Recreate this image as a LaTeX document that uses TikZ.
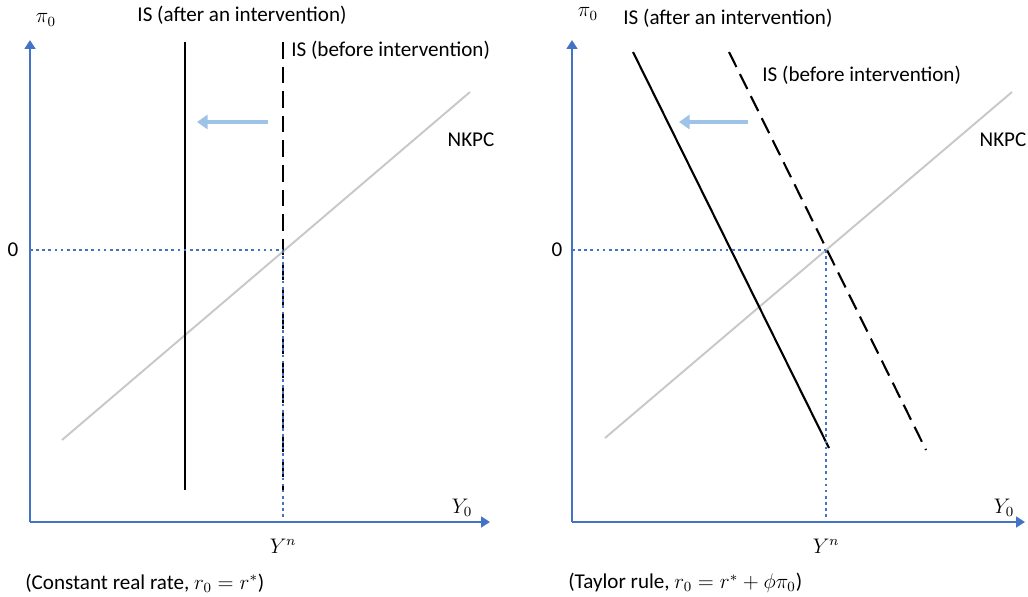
\documentclass[tikz,border=0pt]{standalone}
\usepackage{fontspec}
\setmainfont{Carlito}
\usepackage{amsmath}
\usetikzlibrary{arrows.meta}
\definecolor{axisC}{HTML}{4472C4}
\definecolor{shiftC}{HTML}{9DC3E6}
\definecolor{nkpcC}{HTML}{C8C8C8}
\tikzset{
  axisline/.style ={-{Triangle[width=6pt,length=5pt]}, axisC, line width=1.5pt},
  guide/.style    ={axisC, line width=1.5pt, dash pattern=on 1.5pt off 2pt},
  ISafter/.style  ={black, line width=1.2pt},
  ISbefore/.style ={black, line width=1.2pt, dash pattern=on 9.5pt off 4.5pt},
  nkpc/.style     ={nkpcC, line width=1.1pt},
  shiftarrow/.style={-{Triangle[width=8pt,length=6pt]}, shiftC, line width=2.6pt},
  lbl/.style      ={font=\fontsize{12}{14}\selectfont, inner sep=0pt},
}
\begin{document}
\begin{tikzpicture}[x=0.02cm, y=-0.02cm]
\useasboundingbox (0,0) rectangle (1028,596);

% Left panel: constant real rate
\coordinate (O1) at (30,522);
\coordinate (Ytip1) at (30,40);
\coordinate (Xtip1) at (490,522);
\draw[axisline] (O1) -- (Ytip1);
\draw[axisline] (O1) -- (Xtip1);
\node[lbl] (pi1) at (46,20) {$\pi_0$};
\node[lbl] (Y01) at (462,508) {$Y_0$};
\node[lbl] (zero1) at (13,250) {0};
\node[lbl] (Yn1) at (283,546) {$Y^n$};

\coordinate (E1) at (283,250);
\coordinate (Z1) at (30,250);
\coordinate (B1) at (283,522);
\coordinate (A1top) at (185,42);
\coordinate (A1bot) at (185,490);
\coordinate (S1top) at (283,42);
\coordinate (S1bot) at (283,490);
\coordinate (N1a) at (62,440);
\coordinate (N1b) at (470,92);

\draw[nkpc] (N1a) -- (N1b);
\draw[ISafter] (A1top) -- (A1bot);
\draw[ISbefore] (S1top) -- (S1bot);
\draw[guide] (Z1) -- (E1);
\draw[guide] (E1) -- (B1);

\coordinate (arr1s) at (268,122);
\coordinate (arr1e) at (197,122);
\draw[shiftarrow] (arr1s) -- (arr1e);

\node[lbl] (ISa1) at (242,15) {IS (after an intervention)};
\node[lbl, anchor=west] (ISb1) at (291,50) {IS (before intervention)};
\node[lbl] (NK1) at (471,140) {NKPC};
\node[lbl, anchor=west] (cap1) at (25,583) {(Constant real rate, $r_0=r^*$)};

% Right panel: Taylor rule
\coordinate (O2) at (572,522);
\coordinate (Ytip2) at (572,40);
\coordinate (Xtip2) at (1025,522);
\draw[axisline] (O2) -- (Ytip2);
\draw[axisline] (O2) -- (Xtip2);
\node[lbl] (pi2) at (588,14) {$\pi_0$};
\node[lbl] (Y02) at (1004,508) {$Y_0$};
\node[lbl] (zero2) at (557,250) {0};
\node[lbl] (Yn2) at (826,546) {$Y^n$};

\coordinate (E2) at (826,250);
\coordinate (Z2) at (572,250);
\coordinate (B2) at (826,522);
\coordinate (A2top) at (633,52);
\coordinate (A2bot) at (829,448);
\coordinate (S2top) at (729,52);
\coordinate (S2bot) at (926,450);
\coordinate (N2a) at (605,438);
\coordinate (N2b) at (1012,92);

\draw[nkpc] (N2a) -- (N2b);
\draw[ISafter] (A2top) -- (A2bot);
\draw[ISbefore] (S2top) -- (S2bot);
\draw[guide] (Z2) -- (E2);
\draw[guide] (E2) -- (B2);

\coordinate (arr2s) at (748,122);
\coordinate (arr2e) at (679,122);
\draw[shiftarrow] (arr2s) -- (arr2e);

\node[lbl, anchor=west] (ISa2) at (623,18) {IS (after an intervention)};
\node[lbl, anchor=west] (ISb2) at (762,75) {IS (before intervention)};
\node[lbl] (NK2) at (1003,140) {NKPC};
\node[lbl, anchor=west] (cap2) at (568,583) {(Taylor rule, $r_0=r^*+\phi\pi_0$)};

\end{tikzpicture}
\end{document}
